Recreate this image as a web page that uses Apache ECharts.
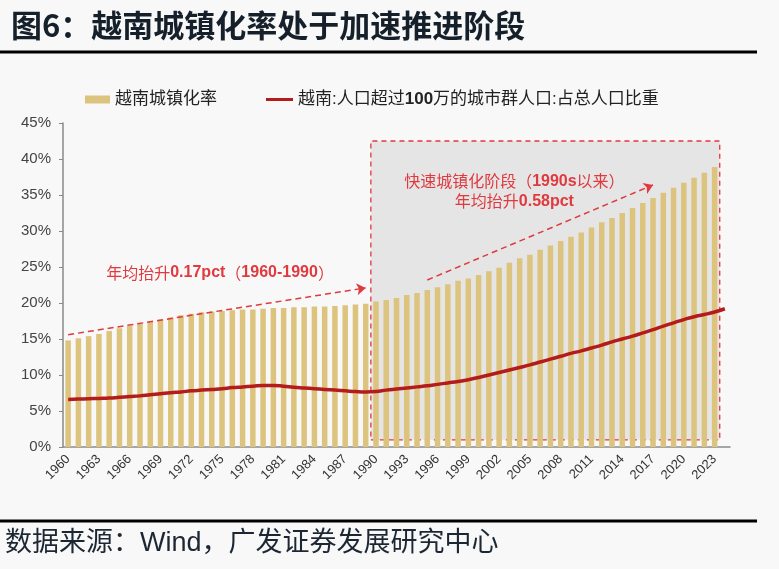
<!DOCTYPE html>
<html>
<head>
<meta charset="utf-8">
<style>
html,body{margin:0;padding:0;background:#f8f8f8;}
#chart{width:779px;height:569px;}
</style>
<script src="https://cdn.jsdelivr.net/npm/echarts@6/dist/echarts.min.js"></script>
</head>
<body>
<div id="chart"></div>
<script>
// ---- data ----
const years = [];
for (let y = 1960; y <= 2024; y++) years.push(String(y));

const urbanRate = [
  14.8, 15.1, 15.4, 15.7, 16.1, 16.5, 16.8, 17.1, 17.4, 17.7,
  18.0, 18.3, 18.5, 18.7, 18.8, 18.9, 19.0, 19.1, 19.1, 19.2,
  19.3, 19.3, 19.4, 19.4, 19.5, 19.5, 19.6, 19.7, 19.8, 19.9,
  20.2, 20.4, 20.7, 21.1, 21.4, 21.8, 22.2, 22.6, 23.1, 23.4,
  23.9, 24.4, 24.9, 25.6, 26.2, 26.7, 27.4, 28.0, 28.6, 29.2,
  29.8, 30.5, 31.2, 31.8, 32.5, 33.2, 33.9, 34.6, 35.3, 36.0,
  36.7, 37.4, 38.1, 38.9, null
];

const bigCityShare = [
  6.6, 6.65, 6.7, 6.75, 6.8, 6.9, 7.0, 7.1, 7.25, 7.4,
  7.55, 7.65, 7.8, 7.9, 8.0, 8.1, 8.25, 8.35, 8.45, 8.55,
  8.55, 8.45, 8.3, 8.2, 8.1, 8.0, 7.9, 7.8, 7.7, 7.65,
  7.7, 7.9, 8.05, 8.2, 8.35, 8.5, 8.7, 8.9, 9.1, 9.35,
  9.65, 10.0, 10.35, 10.7, 11.05, 11.4, 11.8, 12.2, 12.6, 13.0,
  13.35, 13.75, 14.15, 14.6, 15.0, 15.4, 15.85, 16.3, 16.8, 17.25,
  17.7, 18.1, 18.4, 18.75, 19.2
];

const yTicks = { min: 0, max: 45, interval: 5 };
const seriesNames = ['越南城镇化率', '越南:人口超过100万的城市群人口:占总人口比重'];

const titleText = '图6：越南城镇化率处于加速推进阶段';
const sourceText = '数据来源：Wind，广发证券发展研究中心';

const LATIN = "'Liberation Sans', Arial, 'Noto Sans CJK SC', sans-serif";
const RED = '#e0393e';
const LINE_RED = '#b41c1c';

const legendText = {
  fontSize: 17, color: '#222', fontFamily: LATIN,
  rich: { b: { fontSize: 17, fontWeight: 'bold', color: '#222', fontFamily: LATIN } }
};

const chart = echarts.init(document.getElementById('chart'));
chart.setOption({
  animation: false,
  backgroundColor: '#f8f8f8',
  title: {
    text: titleText,
    left: 6, top: 5,
    textStyle: { fontSize: 31, fontWeight: 'bold', color: '#15202b', fontFamily: "'Noto Sans CJK SC', sans-serif" }
  },
  graphic: [
    { type: 'line', shape: { x1: 0, y1: 52, x2: 757, y2: 52 }, style: { stroke: '#000', lineWidth: 3 } },
    { type: 'line', shape: { x1: 0, y1: 521, x2: 757, y2: 521 }, style: { stroke: '#000', lineWidth: 3 } },
    { type: 'text', left: 5, top: 530, style: { text: sourceText, fontSize: 27, fill: '#1c2733', fontFamily: LATIN } }
  ],
  legend: [
    {
      left: 80, top: 86,
      itemWidth: 25, itemHeight: 8,
      data: [{ name: seriesNames[0], icon: 'rect' }],
      textStyle: legendText
    },
    {
      left: 261, top: 86,
      itemWidth: 27, itemHeight: 3,
      data: [{ name: seriesNames[1], icon: 'rect', itemStyle: { color: LINE_RED } }],
      formatter: n => n.replace('100', '{b|100}'),
      textStyle: legendText
    }
  ],
  grid: { left: 63, right: 49, top: 123, bottom: 122 },
  xAxis: {
    type: 'category',
    data: years,
    boundaryGap: true,
    axisLine: { lineStyle: { color: '#8a8a8a', width: 1.5 } },
    axisTick: { interval: 2, length: 4, lineStyle: { color: '#8a8a8a' } },
    axisLabel: { interval: 2, rotate: 45, fontSize: 13, color: '#333', margin: 10, fontFamily: LATIN }
  },
  yAxis: {
    type: 'value',
    min: yTicks.min, max: yTicks.max, interval: yTicks.interval,
    splitLine: { show: false },
    axisLine: { show: true, lineStyle: { color: '#8a8a8a', width: 1.5 } },
    axisTick: { show: true, length: 4, lineStyle: { color: '#8a8a8a' } },
    axisLabel: { formatter: '{value}%', fontSize: 15, color: '#444', margin: 12, fontFamily: LATIN }
  },
  series: [
    {
      name: seriesNames[0],
      type: 'bar',
      data: urbanRate,
      barWidth: 5.5,
      itemStyle: { color: '#dcc47e' },
      markArea: {
        silent: true,
        itemStyle: { color: 'rgba(195,195,195,0.35)', borderColor: RED, borderWidth: 1.3, borderType: [5, 4] },
        data: [[{ coord: ['1990', 42.5] }, { coord: ['2024', 1.0] }]]
      },
      markLine: {
        silent: true,
        symbol: ['none', 'arrow'],
        symbolSize: 9,
        label: { show: false },
        itemStyle: { color: RED },
        lineStyle: { color: RED, type: [6, 4], width: 1.5 },
        data: [
          [{ coord: ['1960', 15.6] }, { coord: ['1989', 22.1] }],
          [{ coord: ['1995', 23.2] }, { coord: ['2017', 36.4] }]
        ]
      }
    },
    {
      name: seriesNames[1],
      type: 'line',
      data: bigCityShare,
      smooth: true,
      symbol: 'none',
      lineStyle: { color: LINE_RED, width: 3.5 },
      itemStyle: { color: LINE_RED },
      markPoint: {
        silent: true,
        symbol: 'circle', symbolSize: 1,
        itemStyle: { color: 'rgba(0,0,0,0)' },
        label: {
          show: true, position: 'inside', color: RED, fontSize: 16, lineHeight: 20,
          fontFamily: "'Noto Sans CJK SC', sans-serif",
          rich: { b: { fontSize: 16, fontWeight: 'bold', color: RED, fontFamily: LATIN } }
        },
        data: [
          { coord: ['1975', 24.2], label: { formatter: '年均抬升{b|0.17pct}（{b|1960-1990}）', offset: [-2, 0] } },
          { coord: ['2003', 35.5], label: { formatter: '快速城镇化阶段（{b|1990s}以来）\n年均抬升{b|0.58pct}', align: 'center', offset: [5, 0] } }
        ]
      }
    }
  ]
});
</script>
</body>
</html>
